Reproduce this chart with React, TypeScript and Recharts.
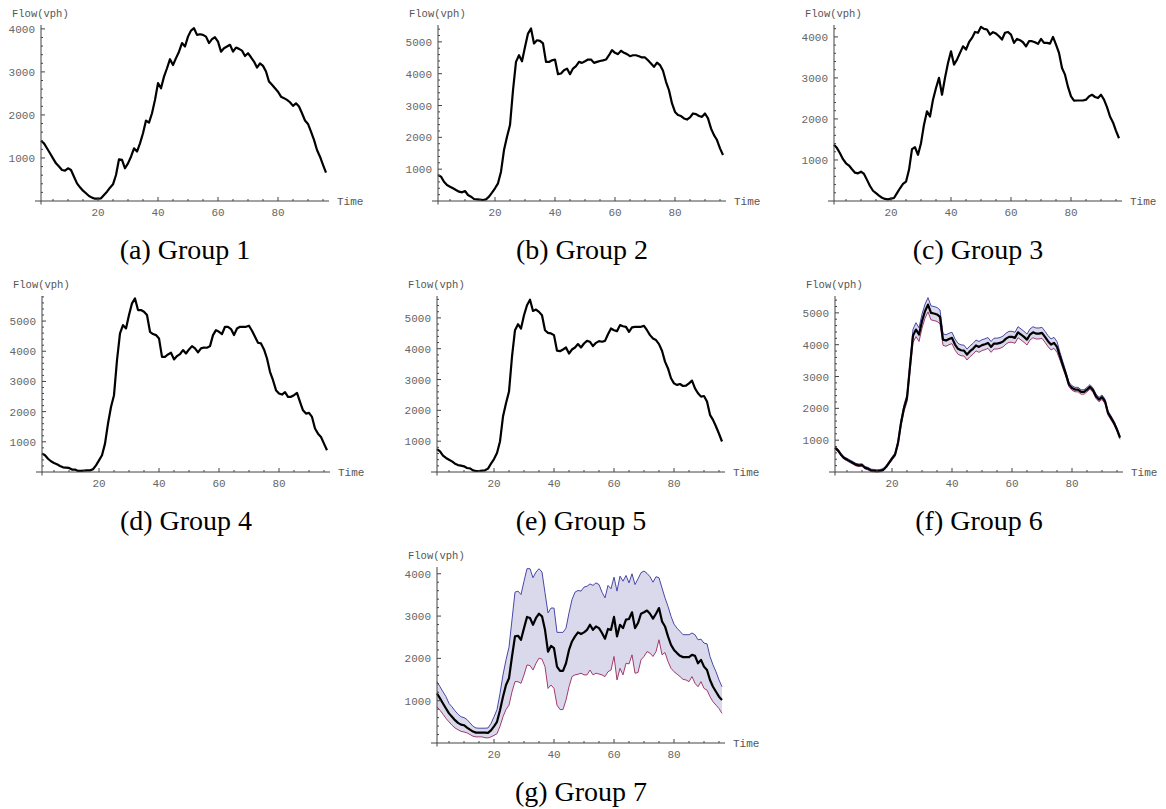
import { ComposedChart, Line, Area, XAxis, YAxis, ReferenceLine } from 'recharts';

// time index: 96 fifteen-minute intervals
const time = Array.from({ length: 96 }, (_, i) => i + 1);

const group1Mean = [
  1400, 1340, 1225, 1110, 990, 875, 800, 720, 705, 760,
  720, 565, 410, 318, 240, 180, 116, 78, 54, 54,
  62, 140, 217, 310, 388, 605, 970, 955, 760, 875,
  1030, 1225, 1150, 1340, 1575, 1870, 1820, 2040, 2350, 2740,
  2620, 2890, 3085, 3295, 3160, 3320, 3470, 3670, 3590, 3820,
  3960, 4015, 3860, 3876, 3860, 3820, 3670, 3760, 3805, 3705,
  3470, 3550, 3590, 3630, 3470, 3565, 3535, 3495, 3370, 3435,
  3340, 3240, 3100, 3200, 3140, 3010, 2775, 2700, 2620, 2540,
  2425, 2390, 2350, 2295, 2210, 2270, 2195, 2040, 1870, 1790,
  1610, 1420, 1185, 1030, 840, 660,
];

const group2Mean = [
  815, 765, 605, 500, 450, 400, 345, 293, 272, 314,
  188, 136, 63, 52, 42, 31, 52, 136, 262, 400,
  555, 920, 1600, 2020, 2385, 3480, 4370, 4580, 4390, 4840,
  5260, 5420, 4950, 5050, 5030, 4950, 4370, 4370, 4420, 4445,
  3985, 4005, 4110, 4160, 3985, 4160, 4235, 4370, 4340, 4390,
  4445, 4445, 4340, 4370, 4400, 4420, 4445, 4580, 4740, 4655,
  4615, 4720, 4655, 4615, 4550, 4580, 4580, 4550, 4510, 4510,
  4420, 4320, 4215, 4350, 4270, 4090, 3745, 3480, 3065, 2800,
  2700, 2670, 2595, 2560, 2625, 2750, 2730, 2670, 2645, 2750,
  2595, 2280, 2070, 1915, 1655, 1445,
];

const group3Mean = [
  1370, 1290, 1165, 1020, 920, 865, 775, 690, 675, 715,
  660, 515, 365, 250, 190, 130, 80, 50, 40, 57,
  73, 190, 310, 415, 470, 760, 1265, 1310, 1125, 1410,
  1860, 2185, 2060, 2470, 2755, 3000, 2590, 3000, 3365, 3650,
  3325, 3445, 3610, 3770, 3690, 3870, 3975, 4120, 4100, 4245,
  4195, 4180, 4055, 4115, 4080, 4015, 3935, 4100, 4120, 4055,
  3855, 3950, 3920, 3870, 3770, 3895, 3895, 3870, 3830, 3950,
  3855, 3855, 3835, 4000, 3810, 3610, 3240, 3080, 2780, 2550,
  2445, 2450, 2450, 2450, 2470, 2550, 2590, 2535, 2510, 2590,
  2470, 2290, 2060, 1915, 1710, 1530,
];

const group4Mean = [
  610, 555, 440, 355, 300, 255, 200, 155, 145, 135,
  80, 80, 35, 35, 45, 55, 55, 90, 220, 385,
  555, 940, 1605, 2155, 2545, 3705, 4590, 4865, 4755, 5200,
  5585, 5750, 5365, 5365, 5310, 5200, 4645, 4570, 4535, 4425,
  3815, 3815, 3895, 3950, 3730, 3840, 3905, 4040, 3925, 4060,
  4170, 4095, 3960, 4095, 4125, 4115, 4170, 4535, 4700, 4645,
  4570, 4810, 4810, 4735, 4535, 4755, 4810, 4810, 4810, 4845,
  4680, 4480, 4280, 4260, 4060, 3760, 3320, 3040, 2710, 2600,
  2565, 2645, 2490, 2490, 2545, 2620, 2325, 2045, 1935, 1960,
  1825, 1440, 1270, 1160, 940, 720,
];

const group5Mean = [
  745, 670, 530, 455, 400, 345, 270, 225, 205, 185,
  130, 120, 55, 32, 32, 45, 55, 110, 270, 420,
  615, 990, 1800, 2230, 2610, 3740, 4600, 4795, 4655, 5085,
  5410, 5590, 5225, 5270, 5195, 5085, 4600, 4515, 4495, 4440,
  3935, 3920, 3975, 4040, 3845, 3975, 4040, 4150, 4040, 4170,
  4255, 4225, 4085, 4190, 4245, 4225, 4255, 4470, 4655, 4600,
  4570, 4765, 4730, 4710, 4545, 4690, 4710, 4710, 4710, 4740,
  4600, 4440, 4330, 4280, 4150, 3935, 3580, 3360, 3040, 2875,
  2825, 2855, 2790, 2800, 2875, 2965, 2715, 2555, 2445, 2465,
  2285, 1855, 1690, 1475, 1240, 990,
];

const group6Mean = [
  755, 680, 545, 440, 390, 335, 285, 230, 210, 220,
  135, 105, 50, 40, 30, 40, 65, 155, 285, 420,
  545, 910, 1540, 2010, 2325, 3320, 4285, 4475, 4320, 4740,
  5050, 5260, 5000, 4980, 4950, 4875, 4160, 4130, 4180, 4215,
  4005, 3870, 3825, 3815, 3690, 3795, 3870, 3975, 3930, 3985,
  4015, 4055, 3930, 4035, 4035, 4055, 4100, 4190, 4245, 4245,
  4215, 4390, 4320, 4245, 4160, 4320, 4390, 4350, 4350, 4370,
  4245, 4110, 4005, 4055, 3930, 3635, 3345, 3060, 2745, 2640,
  2590, 2590, 2515, 2515, 2590, 2675, 2570, 2380, 2275, 2350,
  2220, 1855, 1700, 1540, 1330, 1080,
];

const group6Upper = [
  795, 720, 585, 480, 430, 375, 325, 270, 250, 260,
  175, 145, 90, 80, 70, 80, 105, 195, 330, 470,
  600, 990, 1640, 2110, 2445, 3470, 4485, 4690, 4530, 4960,
  5270, 5480, 5220, 5200, 5170, 5090, 4340, 4310, 4360, 4390,
  4180, 4040, 3995, 3985, 3860, 3965, 4040, 4145, 4100, 4155,
  4185, 4225, 4100, 4205, 4205, 4225, 4270, 4360, 4420, 4420,
  4390, 4565, 4495, 4420, 4335, 4495, 4565, 4525, 4525, 4545,
  4420, 4285, 4180, 4230, 4100, 3760, 3450, 3145, 2820, 2710,
  2660, 2660, 2585, 2585, 2660, 2745, 2640, 2450, 2345, 2420,
  2290, 1920, 1765, 1600, 1385, 1130,
];

const group6Lower = [
  715, 640, 505, 400, 350, 295, 245, 190, 170, 180,
  95, 65, 15, 5, 0, 5, 30, 115, 245, 375,
  490, 830, 1440, 1910, 2205, 3170, 4065, 4255, 4100, 4520,
  4830, 5030, 4780, 4760, 4730, 4660, 3980, 3950, 4000, 4035,
  3830, 3700, 3655, 3645, 3520, 3625, 3700, 3805, 3760, 3815,
  3845, 3885, 3760, 3865, 3865, 3885, 3930, 4020, 4075, 4075,
  4045, 4220, 4150, 4075, 3990, 4150, 4220, 4180, 4180, 4200,
  4075, 3940, 3835, 3885, 3760, 3515, 3245, 2980, 2675, 2570,
  2520, 2520, 2445, 2445, 2520, 2605, 2500, 2310, 2205, 2280,
  2150, 1790, 1635, 1480, 1275, 1030,
];

const group7Mean = [
  1170, 1055, 935, 815, 700, 620, 540, 475, 435, 420,
  365, 315, 270, 245, 245, 245, 245, 240, 300, 395,
  500, 775, 1095, 1370, 1530, 2045, 2520, 2535, 2440, 2715,
  2980, 2955, 2795, 2955, 3055, 2995, 2675, 2160, 2295, 2240,
  1805, 1705, 1705, 1885, 2200, 2400, 2520, 2615, 2575, 2615,
  2675, 2795, 2675, 2755, 2715, 2600, 2465, 2695, 2675, 2980,
  2520, 2795, 2715, 2915, 2930, 3090, 2715, 2835, 3055, 3090,
  3130, 3055, 2940, 3055, 3190, 2875, 2755, 2520, 2320, 2200,
  2125, 2060, 2030, 2030, 2030, 2085, 2060, 1885, 1965, 1805,
  1725, 1490, 1330, 1210, 1095, 1015,
];

const group7Upper = [
  1450, 1330, 1210, 1095, 935, 855, 760, 680, 620, 600,
  555, 475, 395, 355, 350, 350, 350, 355, 460, 620,
  790, 1170, 1610, 1965, 2265, 2915, 3565, 3590, 3510, 3825,
  4120, 4120, 3905, 4040, 4120, 4040, 3550, 3075, 3190, 3190,
  2615, 2615, 2615, 2715, 3075, 3390, 3565, 3605, 3590, 3685,
  3705, 3760, 3725, 3785, 3745, 3565, 3430, 3725, 3645, 3920,
  3590, 3945, 3825, 3960, 3785, 4000, 3745, 3880, 4025, 4065,
  4010, 3930, 3800, 3930, 3905, 3665, 3430, 3230, 2995, 2810,
  2715, 2640, 2560, 2560, 2560, 2600, 2560, 2440, 2455, 2360,
  2345, 2045, 1845, 1685, 1490, 1330,
];

const group7Lower = [
  855, 775, 680, 580, 500, 420, 355, 315, 275, 260,
  240, 200, 160, 145, 145, 145, 125, 120, 145, 180,
  220, 395, 620, 790, 895, 1210, 1450, 1450, 1410, 1610,
  1845, 1830, 1725, 1885, 2005, 1980, 1805, 1290, 1370, 1290,
  895, 790, 790, 1015, 1330, 1570, 1610, 1625, 1650, 1610,
  1610, 1725, 1610, 1650, 1630, 1610, 1570, 1685, 1725, 2045,
  1490, 1765, 1610, 1885, 1870, 2085, 1650, 1665, 1965, 2045,
  2160, 2125, 2045, 2160, 2440, 2085, 2140, 1925, 1765, 1685,
  1630, 1570, 1505, 1490, 1450, 1570, 1410, 1330, 1450, 1290,
  1250, 1095, 975, 895, 815, 700,
];

const xTickLabels = [20, 40, 60, 80];
const yTickLabels4k = [1000, 2000, 3000, 4000];
const yTickLabels5k = [1000, 2000, 3000, 4000, 5000];

const MONO = '"Liberation Mono", "Courier New", monospace';
const SERIF = '"Liberation Serif", "Times New Roman", serif';
const AXIS = '#444';
const TICK_TEXT = '#666';

const PLOT_W = 288;
const PLOT_H = 176;
const Y_W = 40;
const TOP = 24;
const RIGHT = 40;
const X_H = 22;

const xTicks: number[] = [];
for (let v = 5; v <= 95; v += 5) xTicks.push(v);

const yTicksFor = (max: number) => {
  const out: number[] = [];
  for (let v = 200; v <= max; v += 200) out.push(v);
  return out;
};

const panels = [
  { caption: '(a) Group 1', mean: group1Mean, left: 41, base: 201, yMax: 4090, labels: yTickLabels4k },
  { caption: '(b) Group 2', mean: group2Mean, left: 438, base: 201, yMax: 5530, labels: yTickLabels5k },
  { caption: '(c) Group 3', mean: group3Mean, left: 834, base: 201, yMax: 4290, labels: yTickLabels4k },
  { caption: '(d) Group 4', mean: group4Mean, left: 42, base: 472, yMax: 5830, labels: yTickLabels5k },
  { caption: '(e) Group 5', mean: group5Mean, left: 437, base: 472, yMax: 5710, labels: yTickLabels5k },
  { caption: '(f) Group 6', mean: group6Mean, upper: group6Upper, lower: group6Lower, left: 835, base: 472, yMax: 5530, labels: yTickLabels5k },
  { caption: '(g) Group 7', mean: group7Mean, upper: group7Upper, lower: group7Lower, left: 437, base: 743, yMax: 4160, labels: yTickLabels4k },
];

const YTick = (props: any) => {
  const { x, y, payload, labels } = props;
  const major = labels.includes(payload.value);
  return (
    <g>
      <line x1={x} x2={x + (major ? 4 : 2)} y1={y} y2={y} stroke={AXIS} strokeWidth={1} />
      {major && (
        <text x={x - 6} y={y + 4} textAnchor="end" fontFamily={MONO} fontSize={11} fill={TICK_TEXT}>
          {payload.value}
        </text>
      )}
    </g>
  );
};

const XTick = (props: any) => {
  const { x, y, payload } = props;
  const major = xTickLabels.includes(payload.value);
  return (
    <g>
      <line x1={x} x2={x} y1={y} y2={y - (major ? 4 : 2)} stroke={AXIS} strokeWidth={1} />
      {major && (
        <text x={x} y={y + 15} textAnchor="middle" fontFamily={MONO} fontSize={11} fill={TICK_TEXT}>
          {payload.value}
        </text>
      )}
    </g>
  );
};

const Panel = ({ p }: { p: any }) => {
  const rows = time.map((t, i) => ({
    t,
    mean: p.mean[i],
    upper: p.upper ? p.upper[i] : undefined,
    lower: p.lower ? p.lower[i] : undefined,
    band: p.upper ? [p.lower[i], p.upper[i]] : undefined,
  }));
  const plotTop = p.base - PLOT_H;
  return (
    <div style={{ position: 'absolute', left: p.left - Y_W, top: plotTop - TOP }}>
      <ComposedChart
        width={Y_W + PLOT_W + RIGHT}
        height={TOP + PLOT_H + X_H}
        data={rows}
        margin={{ top: TOP, right: RIGHT, bottom: 0, left: 0 }}
      >
        <XAxis
          dataKey="t"
          type="number"
          domain={[1, 97]}
          ticks={xTicks}
          interval={0}
          height={X_H}
          tickSize={0}
          tickMargin={0}
          tickLine={false}
          axisLine={{ stroke: AXIS }}
          tick={(tp: any) => <XTick {...tp} />}
        />
        <YAxis
          type="number"
          domain={[0, p.yMax]}
          ticks={yTicksFor(p.yMax)}
          interval={0}
          width={Y_W}
          tickSize={0}
          tickMargin={0}
          tickLine={false}
          axisLine={{ stroke: AXIS }}
          tick={(tp: any) => <YTick {...tp} labels={p.labels} />}
        />
        {p.upper && (
          <Area dataKey="band" stroke="none" fill="#d9d9eb" fillOpacity={1} isAnimationActive={false} />
        )}
        {p.upper && (
          <Line dataKey="upper" stroke="#4848a8" strokeWidth={1} dot={false} isAnimationActive={false} />
        )}
        {p.lower && (
          <Line dataKey="lower" stroke="#a33a6e" strokeWidth={1} dot={false} isAnimationActive={false} />
        )}
        <Line
          dataKey="mean"
          stroke="#000"
          strokeWidth={2.2}
          strokeLinejoin="round"
          dot={false}
          isAnimationActive={false}
        />
        {/* Mathematica-style axis crossing: short overhangs past the origin */}
        <ReferenceLine
          segment={[{ x: -1, y: 0 }, { x: 1, y: 0 }]}
          stroke={AXIS}
          ifOverflow="visible"
        />
        <ReferenceLine
          segment={[{ x: 1, y: -p.yMax * 0.02 }, { x: 1, y: 0 }]}
          stroke={AXIS}
          ifOverflow="visible"
        />
      </ComposedChart>
    </div>
  );
};

export default function App() {
  return (
    <div style={{ position: 'absolute', left: 0, top: 0, width: 1166, height: 809, background: '#fff' }}>
      {panels.map((p) => (
        <Panel key={p.caption} p={p} />
      ))}
      <svg width={1166} height={809} style={{ position: 'absolute', left: 0, top: 0, pointerEvents: 'none' }}>
        {panels.map((p) => (
          <g key={p.caption}>
            <text x={p.left - 29} y={p.base - PLOT_H - 8} fontFamily={MONO} fontSize={10.5} fill="#555">
              Flow(vph)
            </text>
            <text x={p.left + PLOT_W + 8} y={p.base + 4} fontFamily={MONO} fontSize={11} fill="#555">
              Time
            </text>
            <text x={p.left + PLOT_W / 2} y={p.base + 58} textAnchor="middle" fontFamily={SERIF} fontSize={28} fill="#000">
              {p.caption}
            </text>
          </g>
        ))}
      </svg>
    </div>
  );
}
